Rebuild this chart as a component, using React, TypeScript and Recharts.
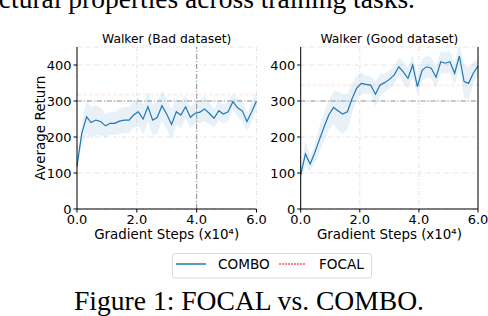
import React from 'react'
import {
  ComposedChart,
  Area,
  Line,
  XAxis,
  YAxis,
  CartesianGrid,
  ReferenceLine,
} from 'recharts'

// gradient steps (x10^4), shared by both panels
const steps = [
  0, 0.16, 0.32, 0.47, 0.63, 0.79, 0.95, 1.11, 1.26, 1.42, 1.58, 1.74, 1.89,
  2.05, 2.21, 2.37, 2.53, 2.68, 2.84, 3.0, 3.16, 3.32, 3.47, 3.63, 3.79, 3.95,
  4.11, 4.26, 4.42, 4.58, 4.74, 4.89, 5.05, 5.21, 5.37, 5.53, 5.68, 5.84, 6.0,
]

// Walker (Bad dataset) – COMBO mean return and spread
const badMean = [
  120, 210, 256, 240, 247, 243, 231, 238, 238, 244, 247, 247, 261,
  270, 250, 284, 247, 254, 287, 263, 235, 270, 261, 284, 255, 266,
  269, 278, 266, 252, 273, 264, 270, 298, 281, 272, 243, 270, 300,
]
const badSpread = [
  8, 32, 45, 42, 42, 38, 32, 32, 32, 36, 36, 36, 36,
  38, 42, 42, 42, 46, 42, 42, 42, 36, 36, 32, 30, 30,
  30, 35, 30, 26, 26, 26, 26, 22, 25, 30, 26, 26, 25,
]

// Walker (Good dataset)
const goodMean = [
  95, 153, 125, 155, 192, 228, 261, 282, 273, 264, 270, 307, 335,
  349, 346, 344, 319, 344, 351, 360, 372, 395, 381, 363, 400, 340,
  386, 395, 391, 366, 409, 405, 409, 377, 425, 354, 349, 377, 397,
]
const goodSpread = [
  10, 35, 20, 25, 35, 40, 40, 45, 55, 55, 50, 40, 35,
  30, 25, 25, 35, 30, 25, 25, 25, 25, 30, 30, 30, 25,
  30, 30, 30, 30, 30, 30, 30, 30, 35, 45, 45, 30, 20,
]

const focalLevels = [318, 344]
const refLevel = 300
const xTicks = [0, 2, 4, 6]
const yTicks = [0, 100, 200, 300, 400]

const BLUE = '#1f77b4'
const FONT = "'DejaVu Sans', sans-serif"

function rows(mean: number[], spread: number[]) {
  return steps.map((x, i) => ({
    x,
    mean: mean[i],
    band: [mean[i] - spread[i], mean[i] + spread[i]],
  }))
}

interface PanelProps {
  mean: number[]
  spread: number[]
  focal: number
  left: number
  width: number
  yWidth: number
  right: number
  showVLine?: boolean
  rightSpine?: boolean
  yLabel?: boolean
}

function Panel({ mean, spread, focal, left, width, yWidth, right, showVLine, rightSpine, yLabel }: PanelProps) {
  const data = rows(mean, spread)
  const tick = { fontFamily: FONT, fontSize: 13, fill: '#000' }
  return (
    <div style={{ position: 'absolute', left, top: 0 }}>
      <ComposedChart
        width={width}
        height={250}
        data={data}
        margin={{ top: 47, right, bottom: 0, left: 0 }}
      >
        <CartesianGrid stroke="#dcdcdc" strokeDasharray="4 2 1 2" strokeWidth={0.8} />
        <XAxis
          dataKey="x"
          type="number"
          domain={[0, 6]}
          ticks={xTicks}
          tickFormatter={(v: number) => v.toFixed(1)}
          height={41}
          tick={tick}
          tickSize={3.5}
          axisLine={{ stroke: '#000', strokeWidth: 1 }}
          tickLine={{ stroke: '#000' }}
        />
        <YAxis
          type="number"
          domain={[0, 450]}
          ticks={yTicks}
          allowDataOverflow
          width={yWidth}
          tick={tick}
          tickSize={3.5}
          axisLine={{ stroke: '#000', strokeWidth: 1 }}
          tickLine={{ stroke: '#000' }}
          label={
            yLabel
              ? () => (
                  <text
                    x={40}
                    y={128}
                    transform="rotate(-90 40 128)"
                    textAnchor="middle"
                    dominantBaseline="central"
                    fontFamily={FONT}
                    fontSize={13.5}
                    fill="#000"
                  >
                    Average Return
                  </text>
                )
              : undefined
          }
        />
        <ReferenceLine y={refLevel} stroke="#8a8a8a" strokeDasharray="5 2 1 2" strokeWidth={0.9} />
        {showVLine && (
          <ReferenceLine x={4} stroke="#8a8a8a" strokeDasharray="5 2 1 2" strokeWidth={0.9} />
        )}
        <ReferenceLine
          y={focal}
          stroke="#ff0000"
          strokeOpacity={0.06}
          strokeWidth={2.5}
          strokeDasharray="4 2"
        />
        <Area
          dataKey="band"
          type="linear"
          stroke="none"
          fill={BLUE}
          fillOpacity={0.1}
          isAnimationActive={false}
        />
        <Line
          dataKey="mean"
          type="linear"
          stroke={BLUE}
          strokeWidth={1.2}
          dot={false}
          isAnimationActive={false}
        />
        {rightSpine && <ReferenceLine x={6} stroke="#000" strokeWidth={1} />}
      </ComposedChart>
    </div>
  )
}

export default function App() {
  return (
    <div style={{ position: 'relative', width: 488, height: 316, overflow: 'hidden', background: '#fff' }}>
      <style>{'body{margin:0}'}</style>
      <Panel
        mean={badMean}
        spread={badSpread}
        focal={focalLevels[0]}
        left={0}
        width={270}
        yWidth={77}
        right={13.5}
        showVLine
        yLabel
      />
      <Panel
        mean={goodMean}
        spread={goodSpread}
        focal={focalLevels[1]}
        left={260}
        width={228}
        yWidth={40.7}
        right={10}
        rightSpine
      />
      <svg
        width={488}
        height={316}
        style={{ position: 'absolute', left: 0, top: 0, pointerEvents: 'none' }}
      >
        <text x={415} y={8} textAnchor="end" fontFamily="'Liberation Serif', serif" fontSize={27.5} fill="#000">
          structural properties across training tasks.
        </text>
        <g fontFamily={FONT} fontSize={12.3} fill="#000" textAnchor="middle">
          <text x={166.7} y={43.3}>Walker (Bad dataset)</text>
          <text x={389.4} y={43.3}>Walker (Good dataset)</text>
        </g>
        <g fontFamily={FONT} fontSize={13.4} fill="#000" textAnchor="middle">
          <text x={166.7} y={238.5}>Gradient Steps (x10⁴)</text>
          <text x={389.4} y={238.5}>Gradient Steps (x10⁴)</text>
        </g>
        <rect x={172.5} y={253.5} width={199} height={24.5} rx={2.5} fill="#fff" stroke="#d0d0d0" strokeWidth={0.8} />
        <line x1={176} y1={264} x2={206} y2={264} stroke={BLUE} strokeWidth={1.5} />
        <line x1={279} y1={264} x2={305} y2={264} stroke="#ff0000" strokeWidth={1} strokeDasharray="2 1" />
        <g fontFamily={FONT} fontSize={13.6} fill="#000">
          <text x={218} y={269}>COMBO</text>
          <text x={319} y={269}>FOCAL</text>
        </g>
        <text x={249} y={310} textAnchor="middle" fontFamily="'Liberation Serif', serif" fontSize={27.6} fill="#000">
          Figure 1: FOCAL vs. COMBO.
        </text>
      </svg>
    </div>
  )
}
